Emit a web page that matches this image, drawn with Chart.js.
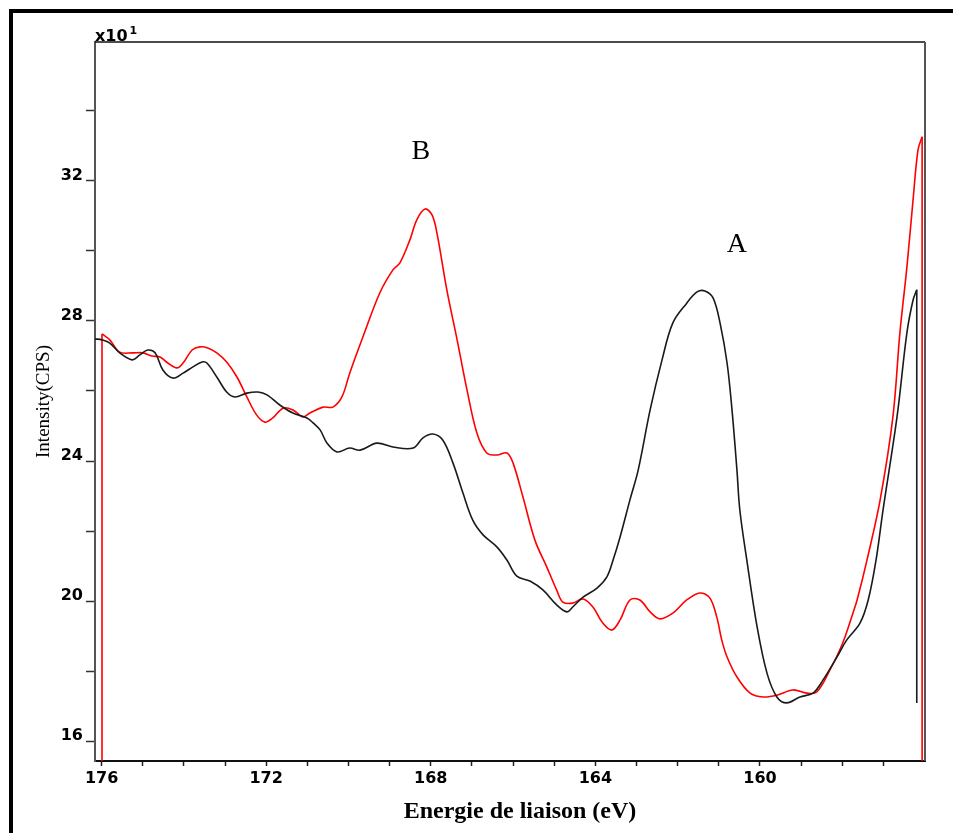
<!DOCTYPE html>
<html>
<head>
<meta charset="utf-8">
<script src="https://cdn.jsdelivr.net/npm/chart.js@4.4.1/dist/chart.umd.min.js"></script>
<style>
  body { margin: 0; background: #fff; }
  #wrap { position: relative; width: 953px; height: 833px; overflow: hidden; }
  #frame { position: absolute; left: 9px; top: 9px; width: 960px; height: 840px;
           border-left: 4px solid #000; border-top: 4px solid #000; pointer-events: none; }
</style>
</head>
<body>
<div id="wrap">
  <canvas id="xps" width="953" height="833"></canvas>
  <div id="frame"></div>
</div>
<script>
// Energie de liaison (eV) et intensité (x10 CPS)
const blackEnergy = [176.16, 175.99, 175.80, 175.56, 175.26, 175.07, 174.88, 174.70, 174.51, 174.27,
  174.02, 173.78, 173.56, 173.44, 173.20, 172.96, 172.76, 172.47, 172.20, 171.98,
  171.67, 171.35, 171.01, 170.86, 170.69, 170.52, 170.28, 169.97, 169.72, 169.31,
  168.92, 168.43, 168.19, 167.95, 167.71, 167.46, 167.22, 166.98, 166.73, 166.39,
  166.15, 165.91, 165.59, 165.27, 164.94, 164.69, 164.55, 164.30, 163.96, 163.72,
  163.57, 163.40, 163.16, 162.96, 162.67, 162.38, 162.12, 161.78, 161.53, 161.34,
  161.14, 160.97, 160.80, 160.68, 160.56, 160.49, 160.32, 160.07, 159.83, 159.59,
  159.35, 159.03, 158.71, 158.47, 158.13, 157.89, 157.57, 157.37, 157.18, 157.01,
  156.67, 156.43, 156.28, 156.19];
const blackCounts = [27.49, 27.46, 27.37, 27.09, 26.89, 27.03, 27.17, 27.09, 26.60, 26.37,
  26.51, 26.69, 26.83, 26.80, 26.40, 25.97, 25.83, 25.94, 25.97, 25.89,
  25.60, 25.37, 25.23, 25.09, 24.89, 24.51, 24.26, 24.37, 24.31, 24.51,
  24.40, 24.37, 24.66, 24.77, 24.60, 23.94, 23.09, 22.31, 21.89, 21.54,
  21.17, 20.71, 20.57, 20.31, 19.89, 19.69, 19.83, 20.11, 20.37, 20.69,
  21.17, 21.83, 22.89, 23.74, 25.46, 26.89, 27.94, 28.51, 28.83, 28.86,
  28.66, 27.94, 26.80, 25.46, 23.74, 22.60, 21.17, 19.26, 17.94, 17.26,
  17.09, 17.26, 17.37, 17.74, 18.40, 18.89, 19.37, 20.03, 21.17, 22.60,
  25.26, 27.66, 28.60, 28.89];

const redEnergy = [175.99, 175.80, 175.56, 175.24, 175.00, 174.78, 174.58, 174.39, 174.17, 174.02,
  173.80, 173.61, 173.42, 173.20, 172.96, 172.71, 172.47, 172.23, 172.03, 171.84,
  171.59, 171.35, 171.11, 170.94, 170.62, 170.38, 170.16, 169.97, 169.65, 169.24,
  168.92, 168.75, 168.51, 168.34, 168.14, 167.97, 167.85, 167.61, 167.36, 167.12,
  166.88, 166.64, 166.39, 166.15, 166.00, 165.76, 165.47, 165.18, 164.94, 164.79,
  164.55, 164.30, 164.06, 163.82, 163.60, 163.40, 163.16, 162.92, 162.67, 162.43,
  162.11, 161.78, 161.46, 161.22, 161.05, 160.93, 160.80, 160.56, 160.24, 159.92,
  159.59, 159.20, 158.86, 158.62, 158.30, 157.99, 157.74, 157.64, 157.40, 157.08,
  156.77, 156.60, 156.43, 156.28, 156.16, 156.06];
const redCounts = [27.63, 27.46, 27.11, 27.09, 27.09, 27.00, 26.97, 26.80, 26.66, 26.80,
  27.17, 27.26, 27.23, 27.09, 26.83, 26.40, 25.83, 25.31, 25.11, 25.23,
  25.51, 25.46, 25.26, 25.37, 25.54, 25.54, 25.83, 26.51, 27.54, 28.80,
  29.46, 29.66, 30.31, 30.89, 31.20, 31.03, 30.51, 28.89, 27.46, 26.03,
  24.80, 24.23, 24.17, 24.23, 23.94, 22.97, 21.74, 20.97, 20.31, 19.97,
  19.94, 20.06, 19.83, 19.37, 19.17, 19.46, 20.03, 20.03, 19.69, 19.49,
  19.66, 20.03, 20.23, 20.09, 19.54, 18.89, 18.40, 17.83, 17.37, 17.26,
  17.31, 17.46, 17.37, 17.40, 18.03, 18.80, 19.66, 20.03, 21.17, 22.89,
  25.26, 27.66, 29.54, 31.46, 32.89, 33.26];

// traits verticaux aux extrémités des spectres
const blackEdgeEnergy = [156.19, 156.19];
const blackEdgeCounts = [28.89, 17.09];
const redLeftEdgeEnergy = [175.99, 175.99];
const redLeftEdgeCounts = [10, 27.63];
const redRightEdgeEnergy = [156.06, 156.06];
const redRightEdgeCounts = [33.26, 10];

const xTicks = [176, 175, 174, 173, 172, 171, 170, 169, 168, 167, 166, 165, 164, 163, 162, 161, 160, 159, 158, 157];
const xLabels = [176, 172, 168, 164, 160];
const yTicks = [16, 18, 20, 22, 24, 26, 28, 30, 32, 34];
const yLabels = [16, 20, 24, 28, 32];

const peakNames = ["B", "A"];
const peakEnergy = [168.24, 160.56];
const peakCounts = [32.83, 30.17];

const pts = (xs, ys) => xs.map((x, i) => ({ x: x, y: ys[i] }));

const line = (data, color, tension) => ({
  data: data,
  borderColor: color,
  borderWidth: 1.6,
  pointRadius: 0,
  fill: false,
  tension: tension,
});

// cadre du haut/droite + textes libres
const decor = {
  id: "decor",
  afterDraw(chart) {
    const { ctx, chartArea: a, scales } = chart;
    ctx.save();
    ctx.lineWidth = 1.6;
    ctx.strokeStyle = "#111";
    ctx.beginPath();
    ctx.moveTo(a.left, a.top);
    ctx.lineTo(a.right, a.top);
    ctx.stroke();
    ctx.lineWidth = 2;
    ctx.strokeStyle = "#555";
    ctx.beginPath();
    ctx.moveTo(a.right, a.top);
    ctx.lineTo(a.right, a.bottom);
    ctx.stroke();

    ctx.fillStyle = "#000";
    ctx.textBaseline = "alphabetic";
    ctx.font = "bold 16px 'DejaVu Sans'";
    ctx.fillText("x10", a.left, a.top - 1);
    const w = ctx.measureText("x10").width;
    ctx.font = "bold 11px 'DejaVu Sans'";
    ctx.fillText("1", a.left + w + 2, a.top - 8);

    ctx.textAlign = "center";
    ctx.textBaseline = "middle";
    ctx.font = "bold 24px 'Liberation Serif'";
    ctx.fillText("Energie de liaison (eV)", a.left + 425, 812);

    ctx.font = "28px 'Liberation Serif'";
    peakNames.forEach((n, i) => {
      ctx.fillText(n, scales.x.getPixelForValue(peakEnergy[i]), scales.y.getPixelForValue(peakCounts[i]));
    });
    ctx.restore();
  },
};

new Chart(document.getElementById("xps"), {
  type: "line",
  data: {
    datasets: [
      line(pts(blackEnergy, blackCounts), "#1a1a1a", 0.35),
      line(pts(redEnergy, redCounts), "#ff0000", 0.35),
      line(pts(blackEdgeEnergy, blackEdgeCounts), "#1a1a1a", 0),
      line(pts(redLeftEdgeEnergy, redLeftEdgeCounts), "#ff0000", 0),
      line(pts(redRightEdgeEnergy, redRightEdgeCounts), "#ff0000", 0),
    ],
  },
  options: {
    responsive: false,
    animation: false,
    layout: { padding: { left: 0, top: 42, right: 28, bottom: 0 } },
    plugins: { legend: { display: false }, tooltip: { enabled: false } },
    scales: {
      x: {
        type: "linear",
        reverse: true,
        min: 155.99,
        max: 176.16,
        afterBuildTicks: (s) => { s.ticks = xTicks.map((v) => ({ value: v })); },
        afterFit: (s) => { s.height = 72; },
        border: { color: "#111", width: 2 },
        grid: { drawOnChartArea: false, tickLength: 5, tickColor: "#222", tickWidth: 1.5 },
        ticks: {
          autoSkip: false,
          maxRotation: 0,
          padding: 3,
          color: "#000",
          font: { family: "'DejaVu Sans'", size: 16, weight: "bold" },
          callback: (v) => (xLabels.includes(v) ? String(v) : ""),
        },
      },
      y: {
        min: 15.43,
        max: 35.97,
        afterBuildTicks: (s) => { s.ticks = yTicks.map((v) => ({ value: v })); },
        afterFit: (s) => { s.width = 95; },
        border: { color: "#555", width: 2 },
        grid: { drawOnChartArea: false, tickLength: 9, tickColor: "#333", tickWidth: 1.5 },
        ticks: {
          padding: 3,
          color: "#000",
          font: { family: "'DejaVu Sans'", size: 16, weight: "bold", lineHeight: 0.7 },
          callback: (v) => (yLabels.includes(v) ? [String(v), ""] : ""),
        },
        title: {
          display: true,
          text: "Intensity(CPS)",
          color: "#000",
          font: { family: "'Liberation Serif'", size: 19 },
          padding: { top: 33, bottom: 0 },
        },
      },
    },
  },
  plugins: [decor],
});
</script>
</body>
</html>
